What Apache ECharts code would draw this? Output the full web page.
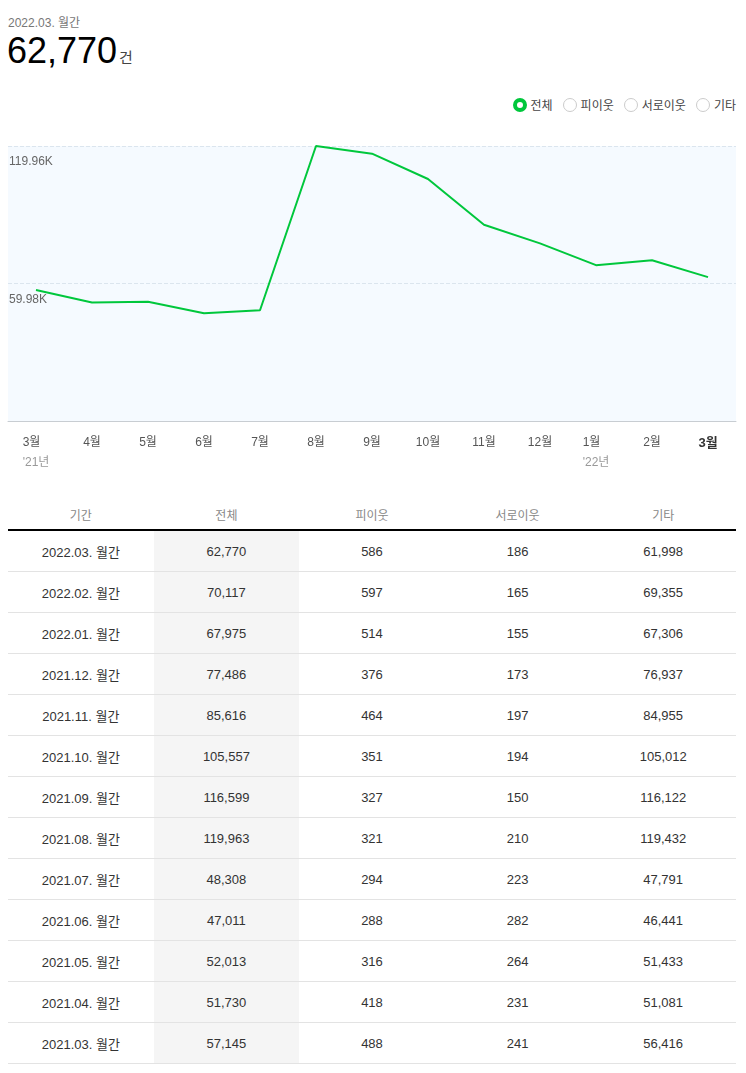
<!DOCTYPE html>
<html lang="ko">
<head>
<meta charset="UTF-8">
<script src="https://cdn.jsdelivr.net/npm/echarts@6/dist/echarts.min.js"></script>
<style>
  body { margin: 0; background: #fff; font-family: 'Liberation Sans', Arial, 'Noto Sans CJK KR', sans-serif; width: 746px; height: 1073px; position: relative; overflow: hidden; }
  .sub { position: absolute; left: 8px; top: 13px; font-size: 12px; color: #777; }
  .big { position: absolute; left: 7px; top: 29px; font-size: 36px; color: #000; line-height: 44px; }
  .big span { font-size: 15px; color: #444; margin-left: 2px; }
  .legend { position: absolute; right: 10px; top: 96px; font-size: 12px; color: #444; display: flex; align-items: center; }
  .legend .it { display: flex; align-items: center; margin-left: 10px; }
  .legend .rd { width: 14px; height: 14px; border: 1px solid #ccc; border-radius: 50%; margin-right: 4px; box-sizing: border-box; background: #fff; }
  .legend .rd.on { border: 4px solid #00c73c; background: #fff; }
  #chart { position: absolute; left: 0; top: 130px; width: 746px; height: 360px; }
  table { position: absolute; left: 8px; top: 500px; width: 728px; border-collapse: collapse; table-layout: fixed; }
  th { height: 29px; padding: 0; font-size: 12px; color: #888; font-weight: normal; border-bottom: 2px solid #000; }
  td { height: 40px; padding: 0; font-size: 13px; color: #333; text-align: center; border-bottom: 1px solid #e3e3e3; }
  td.tot { background: #f5f5f5; }
</style>
</head>
<body>
<div class="sub">2022.03. 월간</div>
<div class="big">62,770<span>건</span></div>
<div class="legend">
  <div class="it"><div class="rd on"></div>전체</div>
  <div class="it"><div class="rd"></div>피이웃</div>
  <div class="it"><div class="rd"></div>서로이웃</div>
  <div class="it"><div class="rd"></div>기타</div>
</div>
<div id="chart"></div>
<table id="tbl"></table>
<script>
// 표 데이터 (최근 월부터)
var periods = ['2022.03. 월간','2022.02. 월간','2022.01. 월간','2021.12. 월간','2021.11. 월간','2021.10. 월간','2021.09. 월간','2021.08. 월간','2021.07. 월간','2021.06. 월간','2021.05. 월간','2021.04. 월간','2021.03. 월간'];
var totals = [62770, 70117, 67975, 77486, 85616, 105557, 116599, 119963, 48308, 47011, 52013, 51730, 57145];
var neighbors = [586, 597, 514, 376, 464, 351, 327, 321, 294, 288, 316, 418, 488];
var mutuals = [186, 165, 155, 173, 197, 194, 150, 210, 223, 282, 264, 231, 241];
var others = [61998, 69355, 67306, 76937, 84955, 105012, 116122, 119432, 47791, 46441, 51433, 51081, 56416];
var headers = ['기간', '전체', '피이웃', '서로이웃', '기타'];

// 차트 축 라벨 (오래된 월부터)
var months = ['3월','4월','5월','6월','7월','8월','9월','10월','11월','12월','1월','2월','3월'];
var yearTags = ["'21년",'','','','','','','','','',"'22년",'',''];
var yMax = 119963;
var yStep = 59981.5;

function fmt(n) { return n.toLocaleString('en-US'); }

// 표 그리기
var html = '<tr>' + headers.map(function(h){ return '<th>' + h + '</th>'; }).join('') + '</tr>';
for (var i = 0; i < periods.length; i++) {
  html += '<tr><td>' + periods[i] + '</td><td class="tot">' + fmt(totals[i]) + '</td><td>' + fmt(neighbors[i]) +
    '</td><td>' + fmt(mutuals[i]) + '</td><td>' + fmt(others[i]) + '</td></tr>';
}
document.getElementById('tbl').innerHTML = html;

var lineData = totals.slice().reverse();
var last = months.length - 1;

var chart = echarts.init(document.getElementById('chart'));
chart.setOption({
  animation: false,
  textStyle: { fontFamily: "'Liberation Sans', Arial, 'Noto Sans CJK KR', sans-serif" },
  grid: { left: 8, right: 10, top: 16, bottom: 69, show: true, backgroundColor: '#f5faff', borderWidth: 0 },
  xAxis: {
    type: 'category',
    data: months,
    boundaryGap: true,
    axisTick: { show: false },
    axisLine: { lineStyle: { color: '#c8cdd2' } },
    axisLabel: {
      interval: 0,
      margin: 12,
      formatter: function (v, idx) {
        var m = idx === last ? '{b|' + months[idx] + '}' : '{m|' + months[idx] + '}';
        return yearTags[idx] ? m + '\n{y|' + yearTags[idx] + '}' : m;
      },
      rich: {
        m: { fontSize: 12, color: '#555', align: 'left', lineHeight: 20 },
        b: { fontSize: 13, color: '#333', fontWeight: 'bold', align: 'left', lineHeight: 20 },
        y: { fontSize: 12, color: '#999', align: 'left', lineHeight: 20 }
      }
    }
  },
  yAxis: {
    type: 'value',
    min: 0,
    max: yMax,
    interval: yStep,
    axisLine: { show: false },
    axisTick: { show: false },
    splitLine: { lineStyle: { type: 'dashed', color: '#dbe5ee', width: 1 } },
    axisLabel: {
      inside: true,
      margin: 1,
      verticalAlign: 'top',
      padding: [10, 0, 0, 0],
      fontSize: 12,
      color: '#666',
      formatter: function (v) { return v === 0 ? '' : (v / 1000).toFixed(2) + 'K'; }
    }
  },
  series: [{
    name: '전체',
    type: 'line',
    data: lineData,
    symbol: 'none',
    lineStyle: { color: '#00c73c', width: 2 },
    itemStyle: { color: '#00c73c' }
  }]
});
</script>
</body>
</html>
